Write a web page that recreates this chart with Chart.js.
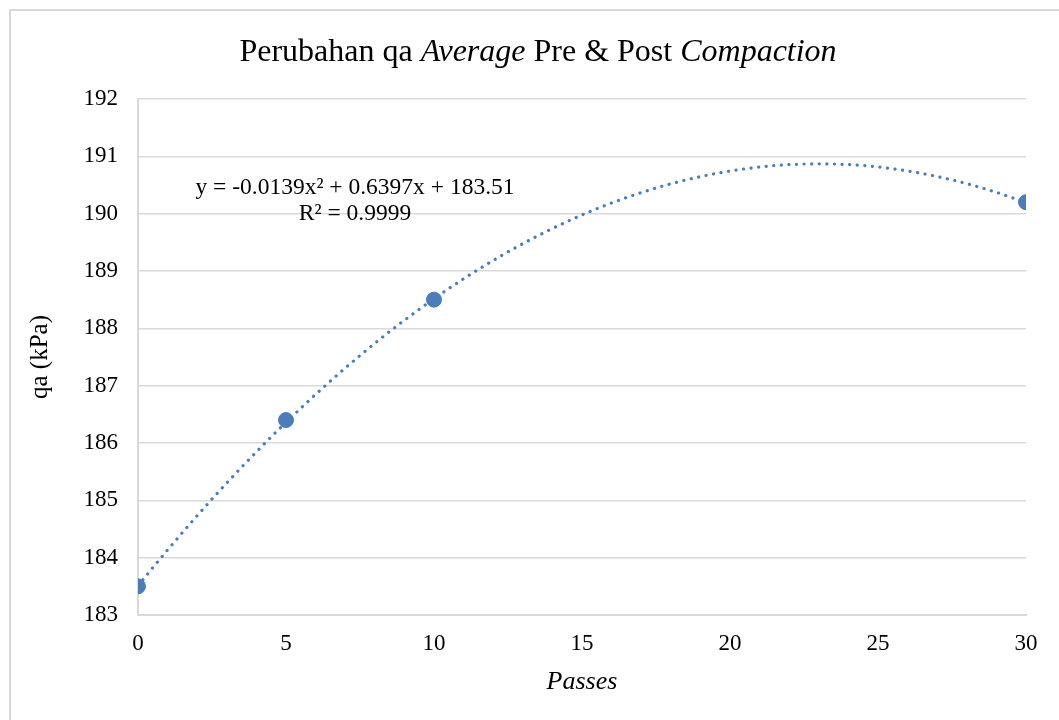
<!DOCTYPE html>
<html>
<head>
<meta charset="utf-8">
<script src="https://cdn.jsdelivr.net/npm/chart.js@4.4.1/dist/chart.umd.min.js"></script>
<style>
  html, body { margin: 0; padding: 0; background: #ffffff; overflow: hidden; }
  #box {
    position: absolute; left: 9px; top: 9px;
    width: 1060px; height: 720px;
    border-left: 2px solid #d9d9d9; border-top: 2px solid #d9d9d9;
    background: #ffffff;
  }
  #box canvas { display: block; }
</style>
</head>
<body>
<div id="box"><canvas id="chart" width="1060" height="720"></canvas></div>
<script>
// measured points
const passes = [0, 5, 10, 30];
const qaAverage = [183.5, 186.4, 188.5, 190.2];

// polynomial trendline from the equation label: a*x^2 + b*x + c
const trendCoef = [-0.0139, 0.6397, 183.51];
const trendLabel = ["y = -0.0139x\u00b2 + 0.6397x + 183.51", "R\u00b2 = 0.9999"];

const xTicks = [0, 5, 10, 15, 20, 25, 30];
const yTicks = [183, 184, 185, 186, 187, 188, 189, 190, 191, 192];

const blue = "#4a7ebb";
const gridGray = "#d9d9d9";
const serif = "'Liberation Serif', 'Times New Roman', serif";

const trendPoints = [];
for (let x = passes[0]; x <= passes[passes.length - 1]; x += 0.5) {
    trendPoints.push({ x: x, y: trendCoef[0] * x * x + trendCoef[1] * x + trendCoef[2] });
}

// title with italic words, drawn in pieces
const richTitle = {
    id: "richTitle",
    afterDraw(chart) {
        const ctx = chart.ctx;
        const parts = [
            ["Perubahan qa ", "normal"],
            ["Average", "italic"],
            [" Pre & Post ", "normal"],
            ["Compaction", "italic"],
        ];
        ctx.save();
        ctx.fillStyle = "#000000";
        ctx.textBaseline = "middle";
        let total = 0;
        parts.forEach(([t, s]) => {
            ctx.font = s + " 32px " + serif;
            total += ctx.measureText(t).width;
        });
        let x = 538 - 11 - total / 2;
        parts.forEach(([t, s]) => {
            ctx.font = s + " 32px " + serif;
            ctx.fillText(t, x, 42);
            x += ctx.measureText(t).width;
        });

        // trendline equation
        ctx.font = "23.5px " + serif;
        ctx.textAlign = "center";
        ctx.fillText(trendLabel[0], 344, 177);
        ctx.fillText(trendLabel[1], 344, 203);
        ctx.restore();
    },
};

new Chart(document.getElementById("chart"), {
    type: "scatter",
    data: {
        datasets: [
            {
                label: "Trendline",
                data: trendPoints,
                showLine: true,
                borderColor: blue,
                borderWidth: 3.2,
                borderDash: [0.1, 7.5],
                borderCapStyle: "round",
                pointRadius: 0,
                order: 2,
            },
            {
                label: "qa",
                data: passes.map((p, i) => ({ x: p, y: qaAverage[i] })),
                backgroundColor: blue,
                borderColor: blue,
                pointRadius: 7.5,
                order: 1,
            },
        ],
    },
    options: {
        responsive: false,
        animation: false,
        layout: { padding: { top: 88, right: 45, left: 14, bottom: 29 } },
        plugins: {
            legend: { display: false },
            tooltip: { enabled: false },
        },
        scales: {
            x: {
                type: "linear",
                min: 0,
                max: 30,
                afterBuildTicks: (scale) => { scale.ticks = xTicks.map((v) => ({ value: v })); },
                afterFit: (scale) => { scale.height = 87; },
                grid: { display: false, drawTicks: false },
                border: { display: true, color: gridGray, width: 2 },
                ticks: { color: "#000", padding: 15, maxRotation: 0, font: { family: serif, size: 23 } },
                title: {
                    display: true,
                    text: "Passes",
                    color: "#000",
                    padding: { top: 10 },
                    font: { family: serif, size: 26, style: "italic" },
                },
            },
            y: {
                min: 183,
                max: 192,
                afterBuildTicks: (scale) => { scale.ticks = yTicks.map((v) => ({ value: v })); },
                afterFit: (scale) => { scale.width = 113; },
                grid: { color: gridGray, lineWidth: 1.5, drawTicks: false },
                border: { display: true, color: gridGray, width: 2 },
                ticks: { color: "#000", padding: 20, font: { family: serif, size: 23 } },
                title: {
                    display: true,
                    text: "qa (kPa)",
                    color: "#000",
                    padding: { top: 0, bottom: 0 },
                    font: { family: serif, size: 25 },
                },
            },
        },
    },
    plugins: [richTitle],
});
</script>
</body>
</html>
